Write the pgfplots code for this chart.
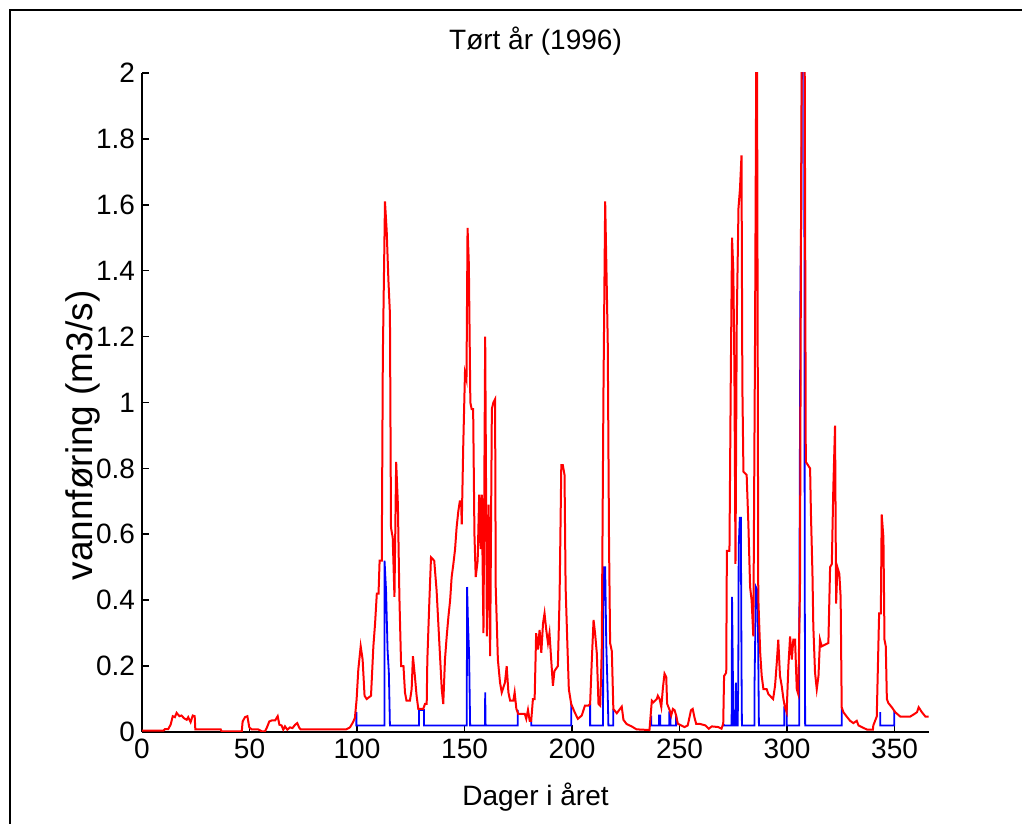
\documentclass[border=0pt]{standalone}
\usepackage{pgfplots}
\pgfplotsset{compat=1.18}
\usepackage{fontspec}
\setmainfont{Liberation Sans}
\begin{document}
\begin{tikzpicture}[x=1pt,y=1pt]
\useasboundingbox (0,0) rectangle (511,412);
\draw[line width=1pt] (5,0) -- (5,407) -- (511,407);
\begin{axis}[
 at={(71pt,46pt)}, anchor=south west,
 scale only axis, width=393.5pt, height=329.5pt,
 xmin=0, xmax=366, ymin=0, ymax=2,
 axis x line*=bottom, axis y line*=left,
 axis line style={line width=1pt, black},
 tick align=inside, major tick length=3.5pt,
 tick style={line width=0.8pt, black},
 xtick={0,50,...,350},
 ytick={0,0.2,0.4,0.6,0.8,1,1.2,1.4,1.6,1.8,2},
 /pgf/number format/assume math mode=true,
 tick label style={font=\fontsize{14}{16}\selectfont},
 label style={font=\fontsize{14}{16}\selectfont},
 title style={font=\fontsize{14}{16}\selectfont, at={(axis description cs:0.5,1.03)}, anchor=center},
 xlabel style={at={(axis description cs:0.5,-0.0986)}, anchor=center},
 ylabel style={font=\fontsize{18.5}{20}\selectfont, at={(axis description cs:-0.075,0.45)}, anchor=center},
 title={Tørt år (1996)},
 xlabel={Dager i året},
 ylabel={vannføring (m3/s)},
 unbounded coords=jump,
 clip=true,
]
\addplot[blue, line width=0.9pt] coordinates {
(99.7,0.06) (99.7,0.02) (112.8,0.02) (112.8,0.52) (113.5,0.43) (114.2,0.25) (114.8,0.18) (115.3,0.02)
(128.8,0.02) (128.8,0.067) (131.1,0.067) (131.1,0.02) (151,0.02) (151.2,0.44) (151.6,0.33) (152.1,0.24) (152.6,0.02)
(159.5,0.02) (159.6,0.12) (159.8,0.02) (174.7,0.02) (174.7,0.067) (175,nan)
(181,0.034) (181,0.02) (199.6,0.02) (199.6,0.085) (200,nan)
(208.4,0.085) (208.4,0.02) (214.4,0.02) (214.6,0.5) (215.4,0.5) (215.9,0.27) (216.6,0.11) (216.9,0.02) (219.2,0.02) (219.2,0.07) (220,nan)
(236.8,0.05) (236.8,0.02) (240.5,0.02) (240.5,0.05) (241,0.05) (241,0.02) (245.2,0.02) (245.2,0.06) (245.8,0.06) (245.8,0.02) (248.4,0.02) (248.4,0.05) (249,nan)
(270.5,0.025) (270.5,0.02) (274.2,0.02) (274.4,0.41) (274.8,0.17) (275.1,0.02) (276,0.02) (276.2,0.15) (276.5,0.02) (277,0.02) (277.3,0.15) (277.5,0.56) (278,0.65) (278.5,0.65) (278.8,0.2) (279,0.02)
(284.8,0.02) (284.8,0.115) (285.5,0.44) (286.2,0.43) (286.5,0.3) (286.9,0.02) (298.7,0.02) (298.7,0.075) (299.8,0.075) (299.8,0.02)
(305.7,0.02) (305.7,0.33) (306.2,1.36) (306.7,1.62) (307.1,2.5) (307.9,2.5) (308.2,0.5) (308.4,0.02) (325.4,0.02) (325.4,0.075) (326,nan)
(343.3,0.06) (343.3,0.02) (349.8,0.02) (349.8,0.065)
};
\addplot[red, line width=1pt] coordinates {
(0,0.004) (10,0.004) (10.7,0.009) (12.2,0.009) (13.3,0.022) (14.3,0.048) (15.3,0.045) (16.1,0.058) (17.4,0.048) (18.4,0.05) (19.5,0.042) (20.8,0.037) (21.5,0.045) (22.6,0.03) (23.6,0.05) (24.5,0.048) (24.8,0.008) (36.6,0.008) (37,0.002) (46.4,0.002) (46.8,0.032) (47.9,0.045) (49,0.048) (49.9,0.014) (51,0.008) (54,0.008) (54.9,0.005) (55.7,0.002) (57.2,0.002) (58,0.012) (59.2,0.032) (60.3,0.035) (61.9,0.035) (63.1,0.048) (63.9,0.022) (64.9,0.02) (65.7,0.007) (66.5,0.017) (67.6,0.007) (68.8,0.014) (70,0.012) (71.2,0.022) (72.2,0.027) (73.2,0.012) (73.8,0.008) (95,0.008) (96.7,0.014) (97.9,0.027) (99,0.042) (99.8,0.098) (100.6,0.19) (101.7,0.26) (102.6,0.22) (103.5,0.11) (104.5,0.1) (106.5,0.11) (107.6,0.26) (108.4,0.33) (109.2,0.42) (110,0.42) (110.5,0.52) (111.5,0.52) (112,1.14) (113,1.61) (113.8,1.52) (114.6,1.37) (115.3,1.27) (115.8,0.62) (116.6,0.59) (117.4,0.41) (118.2,0.82) (119,0.69) (119.7,0.41) (120.5,0.2) (121.6,0.2) (122.3,0.12) (123,0.095) (124.6,0.095) (125.4,0.13) (126,0.23) (126.9,0.17) (127.7,0.11) (128.5,0.07) (130.8,0.07) (131.6,0.085) (132.4,0.085) (132.7,0.22) (133.6,0.39) (134.4,0.53) (135.9,0.52) (137,0.43) (137.8,0.33) (138.6,0.23) (139.4,0.13) (140.1,0.085) (140.9,0.22) (141.7,0.29) (142.5,0.35) (143.3,0.40) (144,0.47) (144.8,0.51) (145.6,0.555) (146.3,0.62) (147.1,0.67) (147.8,0.70) (148.4,0.70) (148.7,0.63) (149.4,0.87) (150.2,1.09) (150.9,1.07) (151.4,1.53) (152,1.42) (152.7,1.00) (153.3,0.98) (154,0.98) (154.6,0.6) (155.2,0.47) (156.1,0.52) (156.8,0.72) (157.5,0.555) (158,0.72) (158.8,0.3) (159.6,1.2) (160.4,0.29) (161.2,0.69) (161.9,0.23) (162.7,0.98) (163.4,1.0) (164.2,1.01) (164.5,0.44) (165.5,0.22) (166.5,0.15) (167.3,0.12) (168.8,0.15) (169.6,0.2) (170.4,0.12) (171.2,0.095) (172.7,0.095) (173.3,0.12) (174.1,0.07) (175,0.055) (178,0.055) (178.7,0.04) (179.5,0.067) (180.3,0.034) (181,0.034) (181.8,0.1) (182.6,0.1) (183.3,0.3) (184.1,0.25) (184.9,0.31) (185.7,0.24) (186.5,0.33) (187.2,0.36) (188,0.31) (188.8,0.27) (189.5,0.3) (190.3,0.22) (191.1,0.14) (191.8,0.185) (193.4,0.2) (194.2,0.41) (195,0.81) (195.7,0.81) (196.5,0.78) (197,0.44) (197.8,0.27) (198.5,0.13) (199.6,0.085) (201.2,0.06) (202.7,0.04) (204.5,0.05) (206,0.08) (207.6,0.08) (208.4,0.085) (209.2,0.22) (210,0.34) (210.7,0.30) (211.5,0.24) (212.3,0.085) (213.1,0.08) (213.8,0.245) (214.6,1.03) (215.4,1.61) (216.2,1.33) (216.6,1.18) (217.2,0.57) (217.7,0.27) (218.5,0.245) (219.2,0.07) (220.8,0.057) (223.1,0.077) (223.9,0.037) (225.4,0.024) (227.7,0.017) (230,0.008) (236,0.006) (237.1,0.095) (237.8,0.09) (239.4,0.1) (239.9,0.11) (240.7,0.1) (241.5,0.076) (242.3,0.137) (243,0.177) (243.8,0.167) (244.2,0.086) (245.4,0.066) (246.1,0.05) (246.9,0.07) (247.7,0.066) (248.4,0.05) (249.2,0.025) (250.7,0.02) (252.3,0.015) (253.8,0.02) (255.3,0.066) (256.1,0.07) (256.9,0.045) (257.7,0.025) (259.2,0.025) (262,0.02) (263.6,0.01) (265,0.017) (268,0.015) (269.5,0.01) (270.3,0.025) (270.7,0.17) (271.7,0.18) (272,0.55) (273.2,0.55) (273.8,1.06) (274.4,1.5) (275,1.4) (275.5,1.1) (276,0.51) (276.6,1.25) (277.4,1.59) (278.1,1.65) (278.8,1.75) (279.2,1.05) (279.7,0.79) (281.2,0.78) (282,0.63) (282.8,0.44) (283.5,0.4) (284.3,0.29) (285.1,1.2) (285.9,2.4) (286.6,0.41) (287.5,0.24) (288.2,0.17) (289,0.13) (290.5,0.13) (291.3,0.115) (293.5,0.1) (294.4,0.14) (295.2,0.21) (295.9,0.28) (296.7,0.17) (297.5,0.14) (298.3,0.1) (299,0.075) (299.8,0.06) (300.6,0.2) (301.4,0.29) (302.2,0.22) (302.9,0.28) (303.7,0.28) (304.5,0.13) (305.2,0.115) (306,0.44) (306.5,1.6) (307.1,2.5) (308,2.5) (308.7,0.82) (310.7,0.8) (311.1,0.66) (311.8,0.48) (312.2,0.32) (313,0.18) (313.8,0.13) (314.6,0.17) (315.3,0.28) (316.1,0.26) (319.2,0.27) (320,0.5) (320.8,0.51) (321.5,0.74) (322.3,0.93) (322.8,0.39) (323.4,0.5) (324.3,0.48) (324.9,0.41) (325.4,0.075) (326.2,0.06) (327.7,0.047) (329.3,0.034) (330.8,0.027) (332.4,0.034) (333.2,0.02) (335,0.014) (337.3,0.007) (339.9,0.007) (340.1,0.02) (341.7,0.047) (342.8,0.36) (343.6,0.36) (344,0.66) (344.8,0.59) (345.3,0.28) (345.9,0.26) (346.4,0.1) (347.1,0.088) (348.7,0.075) (350.3,0.06) (352.6,0.047) (357.3,0.047) (358.8,0.053) (360.4,0.06) (361.2,0.075) (362.7,0.06) (364.3,0.047) (365.8,0.047)
};
\end{axis}
\end{tikzpicture}
\end{document}
